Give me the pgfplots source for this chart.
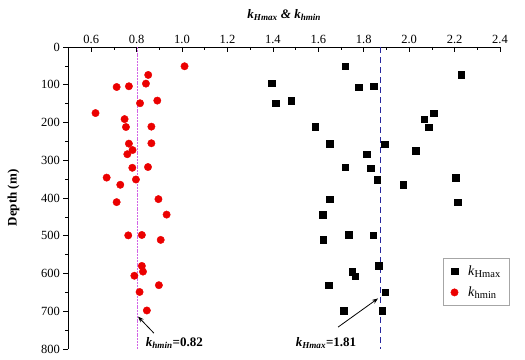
\documentclass[border=0pt]{standalone}
\usepackage{pgfplots}
\pgfplotsset{compat=1.18}
\usepackage{fontspec}
\setmainfont{Liberation Serif}
\usetikzlibrary{arrows.meta}
\definecolor{redpt}{RGB}{235,0,0}
\definecolor{pinkline}{RGB}{210,100,230}
\definecolor{blueline}{RGB}{40,40,160}
\begin{document}
\begin{tikzpicture}
\begin{axis}[
  name=ax, scale only axis, width=431.5pt, height=302pt,
  xmin=0.5, xmax=2.4, ymin=0, ymax=800, y dir=reverse,
  axis x line*=top, axis y line*=left,
  xtick={0.6,0.8,...,2.4}, minor x tick num=1,
  ytick={0,100,...,800}, minor y tick num=1,
  xticklabel style={/pgf/number format/.cd, fixed, fixed zerofill, precision=1},
  /pgf/number format/assume math mode=true,
  tick label style={font=\fontsize{12.5}{14}\selectfont},
  xtick align=inside, ytick align=outside,
  major tick length=5pt, minor tick length=3pt,
  every tick/.style={black, line width=0.6pt},
  axis line style={line width=0.8pt},
  clip=false,
  legend style={at={(0.867,0.30)}, anchor=north west, draw=gray!70,
    font=\fontsize{14}{16}\selectfont, row sep=8pt, column sep=9pt, inner xsep=8pt, inner ysep=6pt,
    nodes={inner sep=1pt}},
  legend image code/.code={\draw[#1] plot coordinates {(0.3cm,0cm)};},
  legend cell align=left,
]
\addplot[only marks, mark=square*, mark size=3.3pt, black] coordinates {
(1.719,51) (1.396,96) (1.778,107) (1.845,104) (1.412,149) (1.481,142) (2.229,74)
(1.587,211) (1.649,256) (1.893,257) (1.812,284) (1.719,318) (1.831,321) (1.860,351)
(2.029,274) (2.067,191) (2.108,175) (2.086,212) (1.973,365) (2.204,346) (2.215,411)
(1.649,403) (1.618,444) (1.621,511) (1.735,498) (1.841,499) (1.865,580) (1.749,595)
(1.763,607) (1.645,631) (1.894,650) (1.711,699) (1.882,698)
};
\addlegendentry{\textit{k}\raisebox{-0.35ex}{\fontsize{10.5}{12}\selectfont Hmax}}
\addplot[only marks, mark=*, mark size=3.7pt, redpt, mark options={draw=redpt, fill=redpt}] coordinates {
(1.011,51) (0.851,74) (0.712,106) (0.766,104) (0.841,97) (0.815,149) (0.891,142)
(0.619,175) (0.747,191) (0.753,212) (0.865,211) (0.766,256) (0.865,255) (0.782,273)
(0.759,284) (0.781,320) (0.850,318) (0.668,346) (0.797,351) (0.728,365) (0.712,411)
(0.896,403) (0.932,444) (0.763,499) (0.823,498) (0.906,511) (0.823,580) (0.828,595)
(0.790,606) (0.898,631) (0.813,649) (0.845,698)
};
\addlegendentry{\textit{k}\raisebox{-0.35ex}{\fontsize{10.5}{12}\selectfont hmin}}
\addplot[pinkline, dash pattern=on 2pt off 0.8pt, line width=1.1pt, forget plot] coordinates {(0.805,0) (0.805,800)};
\addplot[blueline, dash pattern=on 6pt off 4pt, line width=1.1pt, forget plot] coordinates {(1.875,0) (1.875,800)};
\draw[-{Stealth[length=6pt]}, line width=0.8pt] (axis cs:0.876,758) -- (axis cs:0.806,714);
\draw[-{Stealth[length=6pt]}, line width=0.8pt] (axis cs:1.687,742) -- (axis cs:1.863,666);
\node[anchor=west, inner sep=0pt, font=\fontsize{13}{15}\selectfont\bfseries] at (axis cs:0.84,784) {\textit{k\textsubscript{hmin}}=0.82};
\node[anchor=west, inner sep=0pt, font=\fontsize{13}{15}\selectfont\bfseries] at (axis cs:1.50,784) {\textit{k\textsubscript{Hmax}}=1.81};
\end{axis}
\node[font=\fontsize{13}{15}\selectfont\bfseries\itshape] at ([yshift=32pt]ax.north) {k\textsubscript{Hmax} \& k\textsubscript{hmin}};
\node[font=\fontsize{13}{15}\selectfont\bfseries, rotate=90] at ([xshift=-55pt]ax.west) {Depth (m)};
\pgfresetboundingbox
\useasboundingbox ([shift={(-68.5pt,-11pt)}]ax.south west) rectangle ([shift={(25pt,47pt)}]ax.north east);
\end{tikzpicture}
\end{document}
